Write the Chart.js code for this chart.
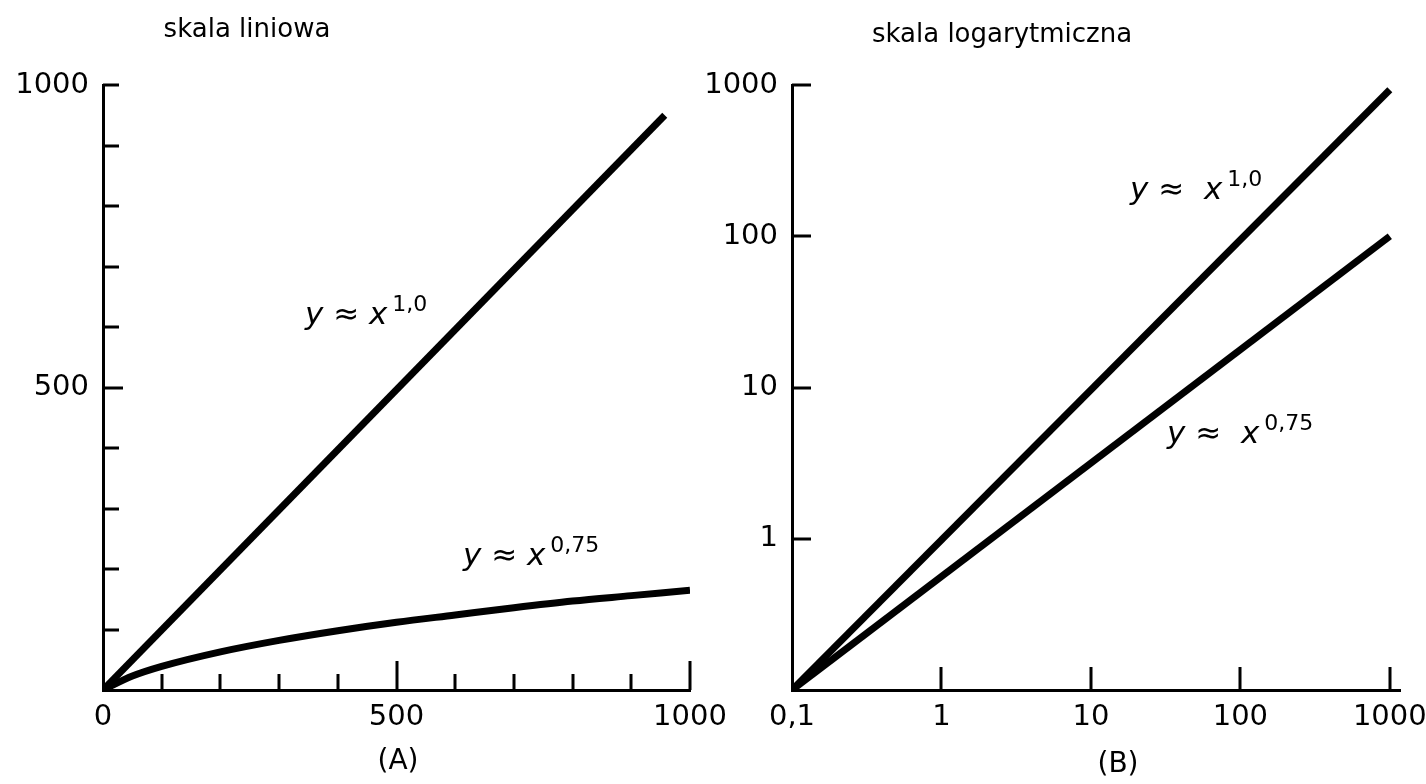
<!DOCTYPE html>
<html>
<head>
<meta charset="utf-8">
<script src="https://cdn.jsdelivr.net/npm/chart.js@4"></script>
<style>
  html, body { margin: 0; padding: 0; background: #fff; }
  body { width: 1426px; height: 784px; position: relative; overflow: hidden; }
  .panel { position: absolute; top: 0; height: 784px; }
  #left { left: 0; width: 740px; }
  #right { left: 700px; width: 726px; }
</style>
</head>
<body>
<div class="panel" id="left"><canvas id="chartA"></canvas></div>
<div class="panel" id="right"><canvas id="chartB"></canvas></div>
<script>
"use strict";

// panel A, linear scale
const linTicks = [0, 100, 200, 300, 400, 500, 600, 700, 800, 900, 1000];
const linLabels = [0, 500, 1000];
const lineAx = [0, 957];
const lineAy = [0, 950];
const curveAx = [0, 50, 100, 200, 300, 400, 500, 600, 700, 800, 900, 1000];
const curveAy = [0, 23, 39, 63, 82, 98, 112, 124, 136, 147, 156, 165];

// panel B, log scale
const logTicks = [0.1, 1, 10, 100, 1000];
const lineBx = [0.1, 1000];
const lineBy = [0.1, 930];
const powBx = [0.1, 1000];
const powBy = [0.1, 100];

const BLACK = "#000";
const TICK_FONT = { family: "DejaVu Sans", size: 29 };

function zip(xs, ys) {
  return xs.map((x, i) => ({ x: x, y: ys[i] }));
}
function fmt(v) {
  return String(v).replace(".", ",");
}

// short ticks drawn inward from the axis lines
const innerTicks = {
  id: "innerTicks",
  afterDraw(chart, args, opts) {
    const ctx = chart.ctx;
    const xs = chart.scales.x, ys = chart.scales.y;
    const area = chart.chartArea;
    ctx.save();
    ctx.strokeStyle = BLACK;
    ctx.lineWidth = 3;
    ctx.beginPath();
    xs.ticks.forEach(t => {
      const len = opts.xLen(t.value);
      if (!len) return;
      const px = Math.round(xs.getPixelForValue(t.value));
      ctx.moveTo(px, area.bottom);
      ctx.lineTo(px, area.bottom - len);
    });
    ys.ticks.forEach(t => {
      const len = opts.yLen(t.value);
      if (!len) return;
      const py = Math.round(ys.getPixelForValue(t.value));
      ctx.moveTo(area.left, py);
      ctx.lineTo(area.left + len, py);
    });
    ctx.stroke();
    ctx.restore();
  }
};

// headings, panel letters and the y ≈ x^k labels
const textLabels = {
  id: "textLabels",
  afterDraw(chart, args, opts) {
    const ctx = chart.ctx;
    ctx.save();
    ctx.fillStyle = BLACK;
    ctx.textBaseline = "middle";
    ctx.textAlign = "center";
    opts.plain.forEach(p => {
      ctx.font = p.size + "px 'DejaVu Sans'";
      ctx.fillText(p.text, p.x, p.y);
    });
    ctx.textBaseline = "alphabetic";
    ctx.textAlign = "left";
    opts.power.forEach(p => {
      ctx.font = "italic 31px 'DejaVu Sans'";
      ctx.fillText(p.text, p.x, p.y);
      const w = ctx.measureText(p.text).width;
      ctx.font = "22px 'DejaVu Sans'";
      ctx.fillText(p.sup, p.x + w + 5, p.y - 13);
    });
    ctx.restore();
  }
};

function axisFit(size) {
  return function (scale) {
    if (scale.isHorizontal()) scale.height = size; else scale.width = size;
    scale.paddingLeft = 0;
    scale.paddingRight = 0;
    scale.paddingTop = 0;
    scale.paddingBottom = 0;
  };
}

function lineDs(data, smooth) {
  return {
    data: data,
    borderColor: BLACK,
    borderWidth: 7,
    pointRadius: 0,
    fill: false,
    cubicInterpolationMode: smooth ? "monotone" : "default",
    tension: 0
  };
}

const baseScale = {
  grid: { drawOnChartArea: false, drawTicks: false },
  border: { display: true, color: BLACK, width: 3 }
};

new Chart(document.getElementById("chartA"), {
  type: "line",
  data: {
    datasets: [lineDs(zip(lineAx, lineAy), false), lineDs(zip(curveAx, curveAy), true)]
  },
  options: {
    responsive: true,
    maintainAspectRatio: false,
    animation: false,
    layout: { padding: { top: 85, right: 50, bottom: 0, left: 0 } },
    plugins: {
      legend: { display: false },
      tooltip: { enabled: false },
      innerTicks: {
        xLen: v => (v === 0 ? 0 : (v === 500 || v === 1000 ? 29 : 16)),
        yLen: v => (v === 0 ? 0 : (v === 500 ? 20 : 16))
      },
      textLabels: {
        plain: [
          { text: "skala liniowa", x: 247, y: 30, size: 26 },
          { text: "(A)", x: 398, y: 762, size: 28 }
        ],
        power: [
          { text: "y ≈ x", x: 305, y: 324, sup: "1,0" },
          { text: "y ≈ x", x: 463, y: 565, sup: "0,75" }
        ]
      }
    },
    scales: {
      x: Object.assign({}, baseScale, {
        type: "linear",
        min: 0,
        max: 1000,
        afterFit: axisFit(94),
        afterBuildTicks: s => { s.ticks = linTicks.map(v => ({ value: v })); },
        ticks: {
          color: BLACK,
          font: TICK_FONT,
          padding: 10,
          autoSkip: false,
          maxRotation: 0,
          callback: v => (linLabels.includes(v) ? fmt(v) : "")
        }
      }),
      y: Object.assign({}, baseScale, {
        type: "linear",
        min: 0,
        max: 1000,
        afterFit: axisFit(103),
        afterBuildTicks: s => { s.ticks = linTicks.map(v => ({ value: v })); },
        ticks: {
          color: BLACK,
          font: TICK_FONT,
          padding: 14,
          autoSkip: false,
          callback: v => (v === 500 || v === 1000 ? fmt(v) : "")
        }
      })
    }
  },
  plugins: [innerTicks, textLabels]
});

new Chart(document.getElementById("chartB"), {
  type: "line",
  data: {
    datasets: [lineDs(zip(lineBx, lineBy), false), lineDs(zip(powBx, powBy), false)]
  },
  options: {
    responsive: true,
    maintainAspectRatio: false,
    animation: false,
    layout: { padding: { top: 85, right: 26, bottom: 0, left: 0 } },
    plugins: {
      legend: { display: false },
      tooltip: { enabled: false },
      innerTicks: {
        xLen: v => (v === 0.1 ? 0 : 23),
        yLen: v => (v === 0.1 ? 0 : 19)
      },
      textLabels: {
        plain: [
          { text: "skala logarytmiczna", x: 302, y: 35, size: 26 },
          { text: "(B)", x: 418, y: 765, size: 28 }
        ],
        power: [
          { text: "y ≈  x", x: 430, y: 199, sup: "1,0" },
          { text: "y ≈  x", x: 467, y: 443, sup: "0,75" }
        ]
      }
    },
    scales: {
      x: Object.assign({}, baseScale, {
        type: "logarithmic",
        min: 0.1,
        max: 1170,
        afterFit: axisFit(94),
        afterBuildTicks: s => { s.ticks = logTicks.map(v => ({ value: v })); },
        ticks: {
          color: BLACK,
          font: TICK_FONT,
          padding: 10,
          autoSkip: false,
          maxRotation: 0,
          callback: v => fmt(v)
        }
      }),
      y: Object.assign({}, baseScale, {
        type: "logarithmic",
        min: 0.1,
        max: 1000,
        afterFit: axisFit(92),
        afterBuildTicks: s => { s.ticks = logTicks.map(v => ({ value: v })); },
        ticks: {
          color: BLACK,
          font: TICK_FONT,
          padding: 14,
          autoSkip: false,
          callback: v => (v === 0.1 ? "" : fmt(v))
        }
      })
    }
  },
  plugins: [innerTicks, textLabels]
});
</script>
</body>
</html>
